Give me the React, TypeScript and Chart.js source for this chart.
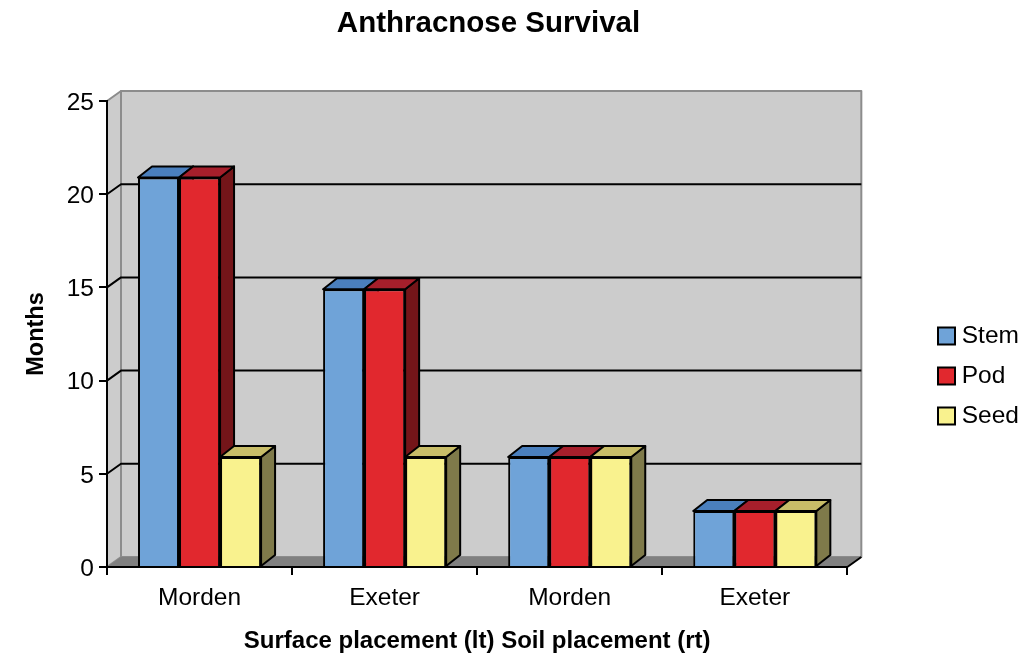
import React, { useEffect, useRef } from "react";
import { Chart, registerables } from "chart.js";

Chart.register(...registerables);

const chartTitle = "Anthracnose Survival";
const xTitle = "Surface placement (lt) Soil placement (rt)";
const yTitle = "Months";
const categories = ["Morden", "Exeter", "Morden", "Exeter"];
const stem = [20.9, 14.9, 5.9, 3];
const pod = [20.9, 14.9, 5.9, 3];
const seed = [5.9, 5.9, 5.9, 3];
const FONT = "'Liberation Sans', Arial, sans-serif";
const DX = 14;
const WALL_DY = 10;
const BAR_DY = 11;

const topColors: Record<string, string> = { Stem: "#4a7fbd", Pod: "#a61f2b", Seed: "#c8bd68" };
const sideColors: Record<string, string> = { Stem: "#3f6a9c", Pod: "#741519", Seed: "#7f7a4a" };

const poly = (ctx: CanvasRenderingContext2D, pts: number[][], fill: string | null, stroke: string | null, lw = 2) => {
  ctx.beginPath();
  pts.forEach((p, i) => (i ? ctx.lineTo(p[0], p[1]) : ctx.moveTo(p[0], p[1])));
  ctx.closePath();
  if (fill) { ctx.fillStyle = fill; ctx.fill(); }
  if (stroke) { ctx.strokeStyle = stroke; ctx.lineWidth = lw; ctx.lineJoin = "round"; ctx.stroke(); }
};

const box3d = {
  id: "box3d",
  afterLayout(chart: any) {
    const t = chart.titleBlock;
    if (t) { t.left = 0; t.right = 977; }
    const l = chart.legend;
    if (l) {
      const pad = l.options.labels.padding;
      const half = l.options.labels.font.size / 2;
      const h = l.bottom - l.top;
      const w = l.right - l.left;
      l.left = 943.5 - pad;
      l.right = l.left + w;
      l.top = 336 - half - pad;
      l.bottom = l.top + h;
    }
  },
  beforeDraw(chart: any) {
    const { ctx } = chart;
    const { left, right } = chart.chartArea;
    const y = chart.scales.y;
    const y0 = y.getPixelForValue(0);
    const yTop = y.getPixelForValue(25);
    ctx.save();
    poly(ctx, [[left + DX, yTop - WALL_DY], [right + DX, yTop - WALL_DY], [right + DX, y0 - WALL_DY], [left + DX, y0 - WALL_DY]], "#cccccc", "#8c8c8c", 2);
    poly(ctx, [[left, yTop], [left + DX, yTop - WALL_DY], [left + DX, y0 - WALL_DY], [left, y0]], "#cccccc", "#8c8c8c", 2);
    poly(ctx, [[left, y0], [left + DX, y0 - WALL_DY], [right + DX, y0 - WALL_DY], [right, y0]], "#808080", null);
    ctx.strokeStyle = "#000";
    ctx.lineWidth = 2;
    y.ticks.forEach((t: any) => {
      if (t.value === 0 || t.value === 25) return;
      const p = y.getPixelForValue(t.value);
      ctx.beginPath();
      ctx.moveTo(left, p);
      ctx.lineTo(left + DX, p - WALL_DY);
      ctx.lineTo(right + DX, p - WALL_DY);
      ctx.stroke();
    });
    ctx.beginPath();
    ctx.moveTo(right, y0);
    ctx.lineTo(right + DX, y0 - WALL_DY);
    ctx.stroke();
    ctx.restore();
  },
  // Chart.js paints the last dataset first; here the order is Stem, Pod, Seed so each
  // bar's front covers the previous bar's side face.
  beforeDatasetsDraw(chart: any) {
    const { ctx } = chart;
    chart.data.datasets.forEach((ds: any, i: number) => {
      const meta = chart.getDatasetMeta(i);
      ctx.save();
      meta.data.forEach((bar: any) => {
        const p = bar.getProps(["x", "y", "base", "width"], true);
        const l = p.x - p.width / 2;
        const r = p.x + p.width / 2;
        poly(ctx, [[r, p.y], [r + DX, p.y - BAR_DY], [r + DX, p.base - BAR_DY], [r, p.base]], sideColors[ds.label], "#000");
        poly(ctx, [[l, p.y], [l + DX, p.y - BAR_DY], [r + DX, p.y - BAR_DY], [r, p.y]], topColors[ds.label], "#000");
      });
      ctx.restore();
      meta.controller.draw();
    });
    return false;
  },
};

export default function App() {
  const ref = useRef<HTMLCanvasElement>(null);
  useEffect(() => {
    const chart = new Chart(ref.current as HTMLCanvasElement, {
      type: "bar",
      plugins: [box3d],
      data: {
        labels: categories,
        datasets: [
          { label: "Stem", data: stem, backgroundColor: "#6fa3d8", borderColor: "#000", borderWidth: 2 },
          { label: "Pod", data: pod, backgroundColor: "#e1282e", borderColor: "#000", borderWidth: 2 },
          { label: "Seed", data: seed, backgroundColor: "#f9f28e", borderColor: "#000", borderWidth: 2 },
        ],
      },
      options: {
        responsive: false,
        animation: false,
        devicePixelRatio: 1,
        layout: { padding: { left: 0, right: 85.7, top: 0, bottom: 0 } },
        datasets: { bar: { categoryPercentage: 0.665, barPercentage: 1 } },
        plugins: {
          tooltip: { enabled: false },
          title: {
            display: true,
            text: chartTitle,
            color: "#000",
            font: { family: FONT, size: 29.5, weight: "bold" },
            padding: { top: 6, bottom: 59.6 },
          },
          legend: {
            position: "right",
            align: "start",
            labels: {
              color: "#000",
              font: { family: FONT, size: 24.5 },
              usePointStyle: true,
              pointStyle: "rect",
              boxWidth: 6,
              boxHeight: 17,
              padding: 15.5,
            },
          },
        },
        scales: {
          x: {
            afterFit: (s: any) => { s.height = 101; },
            grid: { drawOnChartArea: false, color: "#000", lineWidth: 2, tickLength: 8 },
            border: { color: "#000", width: 2 },
            ticks: { color: "#000", font: { family: FONT, size: 24.5 }, padding: 9, maxRotation: 0 },
            title: {
              display: true,
              text: xTitle,
              color: "#000",
              font: { family: FONT, size: 24, weight: "bold" },
              padding: { top: 0, bottom: 12 },
            },
          },
          y: {
            min: 0,
            max: 25,
            afterFit: (s: any) => { s.width = 107; },
            grid: { drawOnChartArea: false, color: "#000", lineWidth: 2, tickLength: 8 },
            border: { color: "#000", width: 2 },
            ticks: { stepSize: 5, color: "#000", font: { family: FONT, size: 24.5 }, padding: 5, labelOffset: 2 },
            title: {
              display: true,
              text: yTitle,
              color: "#000",
              font: { family: FONT, size: 23.5, weight: "bold" },
              padding: { top: 22, bottom: 0 },
            },
          },
        },
      },
    } as any);
    return () => chart.destroy();
  }, []);
  return (
    <div style={{ position: "absolute", left: 0, top: 0, width: 1034, height: 668 }}>
      <canvas ref={ref} width={1034} height={668} style={{ display: "block" }} />
    </div>
  );
}
